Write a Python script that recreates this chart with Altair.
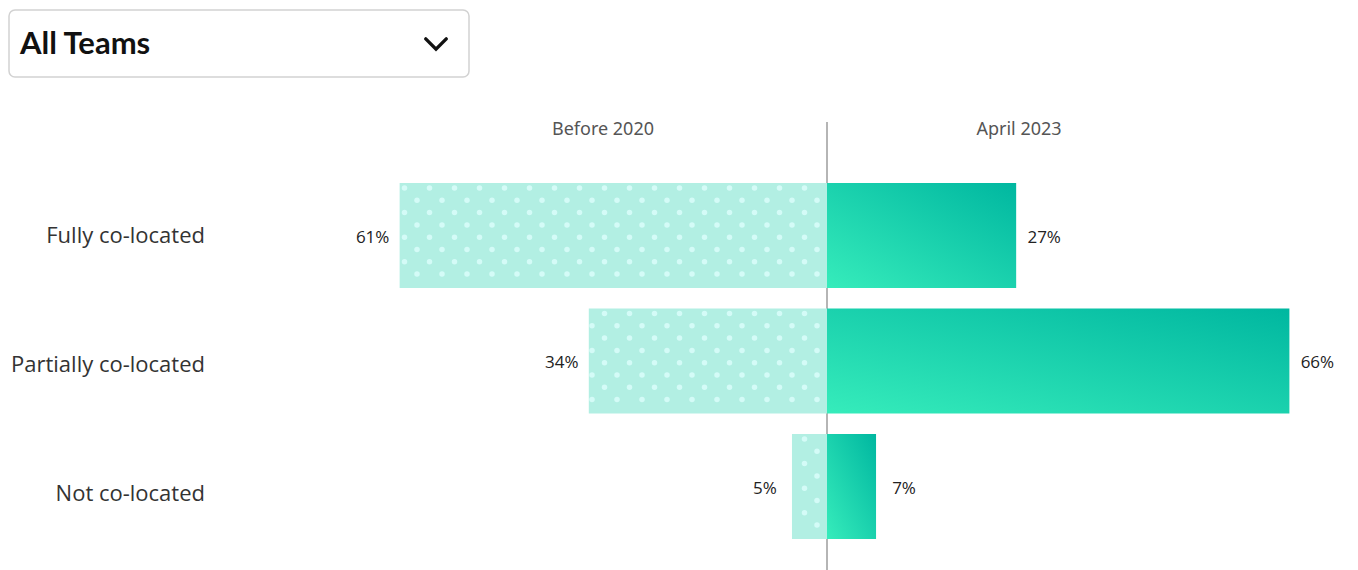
import altair as alt
import pandas as pd

# ---- data ----
categories = ["Fully co-located", "Partially co-located", "Not co-located"]
before_2020 = [61, 34, 5]
april_2023 = [27, 66, 7]
period_labels = ["Before 2020", "April 2023"]
dropdown_label = ["All Teams"]

# ---- layout constants (pixels) ----
W, H = 1342, 562
X_DOMAIN = [-116.9, 74.65]          # percent units across the plot width
PX = W / (X_DOMAIN[1] - X_DOMAIN[0])
Y_STEP = 125.5
Y_DOMAIN = [-227.5 / Y_STEP, (H - 227.5) / Y_STEP]
HALF = 52.5 / Y_STEP               # half bar height in row units
LABEL_STEP = 129.0 / Y_STEP

df = pd.DataFrame({
    "category": categories,
    "row": list(range(len(categories))),
    "before": before_2020,
    "after": april_2023,
})
df["zero"] = 0
df["before_neg"] = -df["before"]
df["ytop"] = df["row"] - HALF
df["ybot"] = df["row"] + HALF
df["label_row"] = df["row"] * LABEL_STEP + 0.5 / Y_STEP
df["before_txt"] = df["before"].astype(str) + "%"
df["after_txt"] = df["after"].astype(str) + "%"

# dot texture inside the "Before 2020" bars
dots = []
for i, v in enumerate(before_2020):
    left_px = -v * PX
    r = 0
    while True:
        yoff = -52.5 + 5 + 12.3 * r
        if yoff > 52.5 - 2.5:
            break
        start = -22.5 if r % 2 == 0 else -10.0
        k = 0
        while True:
            xoff = start - 25 * k
            if xoff < left_px + 2.5:
                break
            dots.append({"x": xoff / PX, "y": i + yoff / Y_STEP})
            k += 1
        r += 1
dots_df = pd.DataFrame(dots)

xs = alt.Scale(domain=X_DOMAIN, nice=False, zero=False)
ys = alt.Scale(domain=Y_DOMAIN, nice=False, zero=False, reverse=True)

base = alt.Chart(df)
one = pd.DataFrame({"label": dropdown_label})

box = alt.Chart(one).mark_rect(
    fill="white", stroke="#d2d2d2", strokeWidth=1.5, cornerRadius=6
).encode(x=alt.value(1), x2=alt.value(461), y=alt.value(2), y2=alt.value(69))

box_text = alt.Chart(one).mark_text(
    align="left", baseline="middle", font="Lato", fontWeight="bold",
    fontSize=31, color="#111111"
).encode(x=alt.value(12), y=alt.value(37), text="label:N")

chevron = alt.Chart(one).mark_point(
    shape="M-1,-0.5L0,0.5L1,-0.5", size=420, filled=False,
    stroke="#111111", strokeWidth=3.4, strokeCap="round",
    opacity=1
).encode(x=alt.value(428), y=alt.value(36))

hdr_left = alt.Chart(pd.DataFrame({"p": [period_labels[0]]})).mark_text(
    align="center", baseline="middle", font="Noto Sans", fontSize=18,
    color="#555555"
).encode(x=alt.value(595), y=alt.value(122), text="p:N")

hdr_right = alt.Chart(pd.DataFrame({"p": [period_labels[1]]})).mark_text(
    align="center", baseline="middle", font="Noto Sans", fontSize=18,
    color="#555555"
).encode(x=alt.value(1011), y=alt.value(122), text="p:N")

center_rule = alt.Chart(pd.DataFrame({"v": [0]})).mark_rule(
    color="#9c9c9c", strokeWidth=1.5
).encode(x=alt.X("v:Q", scale=xs, axis=None), y=alt.value(114), y2=alt.value(562))

bars_before = base.mark_rect(color="#b2efe3").encode(
    x=alt.X("before_neg:Q", scale=xs, axis=None),
    x2="zero:Q",
    y=alt.Y("ytop:Q", scale=ys, axis=None),
    y2="ybot:Q",
)

dot_layer = alt.Chart(dots_df).mark_circle(
    color="#d4fbf7", size=30, opacity=1
).encode(
    x=alt.X("x:Q", scale=xs, axis=None),
    y=alt.Y("y:Q", scale=ys, axis=None),
)

grad = alt.Gradient(
    gradient="linear",
    stops=[alt.GradientStop(color="#36ecbb", offset=0),
           alt.GradientStop(color="#00b7a0", offset=1)],
    x1=0, y1=1, x2=1, y2=0,
)
bars_after = base.mark_rect(color=grad).encode(
    x=alt.X("zero:Q", scale=xs, axis=None),
    x2="after:Q",
    y=alt.Y("ytop:Q", scale=ys, axis=None),
    y2="ybot:Q",
)

lbl_before = base.mark_text(
    align="center", baseline="middle", dx=-27, dy=2, font="Open Sans",
    fontSize=17, color="#222222"
).encode(
    x=alt.X("before_neg:Q", scale=xs, axis=None),
    y=alt.Y("row:Q", scale=ys, axis=None),
    text="before_txt:N",
)

lbl_after = base.mark_text(
    align="center", baseline="middle", dx=28, dy=2, font="Open Sans",
    fontSize=17, color="#222222"
).encode(
    x=alt.X("after:Q", scale=xs, axis=None),
    y=alt.Y("row:Q", scale=ys, axis=None),
    text="after_txt:N",
)

cat_labels = base.mark_text(
    align="right", baseline="middle", font="Open Sans", fontSize=22,
    color="#333333"
).encode(
    x=alt.value(197),
    y=alt.Y("label_row:Q", scale=ys, axis=None),
    text="category:N",
)

chart = alt.layer(
    box, box_text, chevron, hdr_left, hdr_right, center_rule,
    bars_before, dot_layer, bars_after, lbl_before, lbl_after, cat_labels
).properties(
    width=W, height=H, padding=0,
    autosize=alt.AutoSizeParams(type="none"),
    background="white",
).configure_view(stroke=None)

chart.save("out.html", embed_options={"renderer": "svg", "actions": False})
